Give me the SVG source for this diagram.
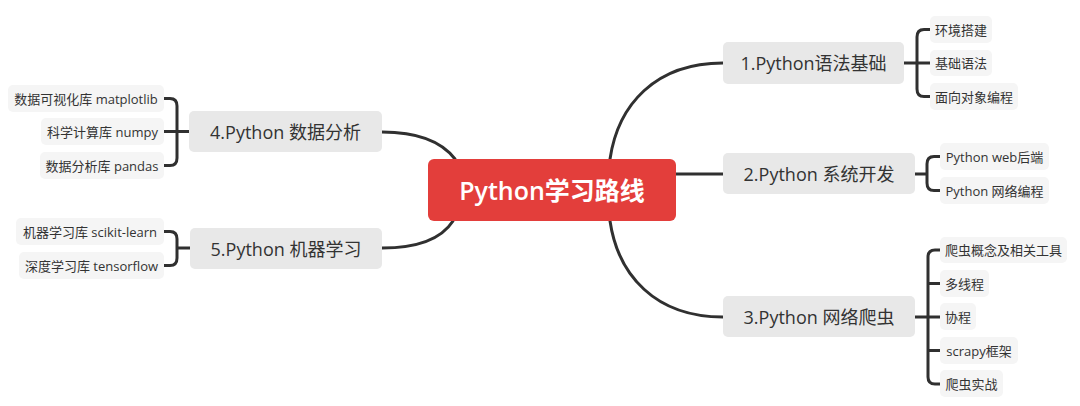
<svg xmlns="http://www.w3.org/2000/svg" width="1080" height="406" viewBox="0 0 1080 406">
<style>
.ln{fill:none;stroke:#303030;stroke-width:3;stroke-linecap:round}
.main{fill:#e8e8e8}
.sub{fill:#f5f5f5}
.mt{font-family:"Open Sans","Noto Sans CJK SC",sans-serif;font-size:18px;fill:#333;text-anchor:middle;dominant-baseline:central}
.st{font-family:"Open Sans","Noto Sans CJK SC",sans-serif;font-size:13px;fill:#333;text-anchor:middle;dominant-baseline:central}
.ct{font-family:"Open Sans","Noto Sans CJK SC",sans-serif;font-size:25px;font-weight:600;fill:#fff;text-anchor:middle;dominant-baseline:central}
</style>
<rect width="1080" height="406" fill="#fff"/>
<g id="connectors">
<path class="ln" d="M610 159 C618 105 655 63 723 63"/>
<path class="ln" d="M610 221 C618 275 655 317 723 317"/>
<path class="ln" d="M676 174 H723"/>
<path class="ln" d="M382 132 C420 132 442 142 455 159"/>
<path class="ln" d="M382 248 C420 248 442 238 453 221"/>
<path class="ln" d="M904 63 H930 M930 29.5 H924 Q917 29.5 917 37 V89 Q917 96.5 924 96.5 H930"/>
<path class="ln" d="M915 174 H927 M940 156.5 H934 Q927 156.5 927 164 V183 Q927 190.5 934 190.5 H940"/>
<path class="ln" d="M915 317 H940 M940 250 H935 Q928 250 928 257 V377 Q928 384 935 384 H940 M928 283.5 H940 M928 350.5 H940"/>
<path class="ln" d="M189 131.5 H164 M164 98.5 H170 Q177 98.5 177 106 V158 Q177 165.5 170 165.5 H164"/>
<path class="ln" d="M190 248 H177 M164 231.5 H170 Q177 231.5 177 239 V258 Q177 265.5 170 265.5 H164"/>
</g>
<g id="center"><rect x="428" y="159" width="248" height="62" rx="6" fill="#e33e3b"/><text class="ct" x="552" y="190">Python学习路线</text></g>
<g id="n1"><rect class="main" x="723" y="42" width="181" height="42" rx="5"/><text class="mt" x="813.5" y="63">1.Python语法基础</text></g>
<g id="n2"><rect class="main" x="723" y="153" width="192" height="41" rx="5"/><text class="mt" x="819" y="173.5">2.Python 系统开发</text></g>
<g id="n3"><rect class="main" x="723" y="296" width="192" height="41" rx="5"/><text class="mt" x="819" y="316.5">3.Python 网络爬虫</text></g>
<g id="n4"><rect class="main" x="189" y="111" width="193" height="41" rx="5"/><text class="mt" x="285.5" y="131.5">4.Python 数据分析</text></g>
<g id="n5"><rect class="main" x="190" y="228" width="192" height="41" rx="5"/><text class="mt" x="286" y="248.5">5.Python 机器学习</text></g>
<g id="n1a"><rect class="sub" x="930" y="16" width="62" height="27" rx="5"/><text class="st" x="961" y="29.5">环境搭建</text></g>
<g id="n1b"><rect class="sub" x="930" y="50" width="62" height="26" rx="5"/><text class="st" x="961" y="63">基础语法</text></g>
<g id="n1c"><rect class="sub" x="930" y="83" width="88" height="27" rx="5"/><text class="st" x="974" y="96.5">面向对象编程</text></g>
<g id="n2a"><rect class="sub" x="940" y="143" width="109" height="27" rx="5"/><text class="st" x="994.5" y="156.5">Python web后端</text></g>
<g id="n2b"><rect class="sub" x="940" y="177" width="109" height="27" rx="5"/><text class="st" x="994.5" y="190.5">Python 网络编程</text></g>
<g id="n3a"><rect class="sub" x="940" y="237" width="127" height="26" rx="5"/><text class="st" x="1003.5" y="250">爬虫概念及相关工具</text></g>
<g id="n3b"><rect class="sub" x="940" y="270" width="49" height="27" rx="5"/><text class="st" x="964.5" y="283.5">多线程</text></g>
<g id="n3c"><rect class="sub" x="940" y="303" width="36" height="27" rx="5"/><text class="st" x="958" y="316.5">协程</text></g>
<g id="n3d"><rect class="sub" x="940" y="337" width="78" height="27" rx="5"/><text class="st" x="979" y="350.5">scrapy框架</text></g>
<g id="n3e"><rect class="sub" x="940" y="370" width="63" height="27" rx="5"/><text class="st" x="971.5" y="383.5">爬虫实战</text></g>
<g id="n4a"><rect class="sub" x="8" y="85" width="156" height="27" rx="5"/><text class="st" x="86" y="98.5">数据可视化库 matplotlib</text></g>
<g id="n4b"><rect class="sub" x="41" y="118" width="123" height="27" rx="5"/><text class="st" x="102.5" y="131.5">科学计算库 numpy</text></g>
<g id="n4c"><rect class="sub" x="40" y="152" width="124" height="27" rx="5"/><text class="st" x="102" y="165.5">数据分析库 pandas</text></g>
<g id="n5a"><rect class="sub" x="16" y="218" width="148" height="27" rx="5"/><text class="st" x="90" y="231.5">机器学习库 scikit-learn</text></g>
<g id="n5b"><rect class="sub" x="19" y="252" width="145" height="27" rx="5"/><text class="st" x="91.5" y="265.5">深度学习库 tensorflow</text></g>
</svg>
